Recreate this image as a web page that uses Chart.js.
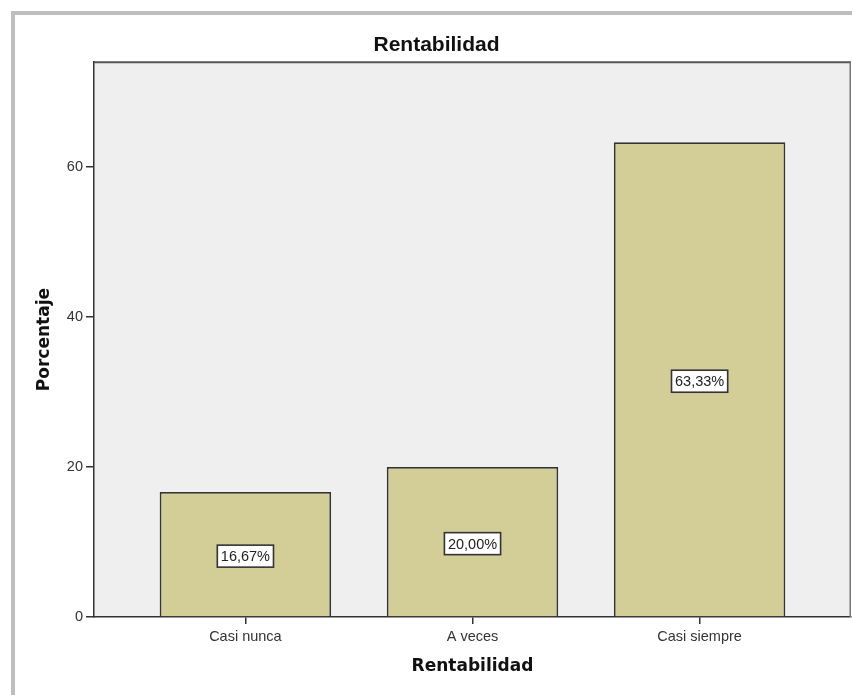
<!DOCTYPE html>
<html>
<head>
<meta charset="utf-8">
<script src="https://cdn.jsdelivr.net/npm/chart.js@4.4.1/dist/chart.umd.min.js"></script>
<style>
  html, body { margin: 0; padding: 0; background: #ffffff; }
  #wrap { position: relative; width: 852px; height: 695px; overflow: hidden; }
  #frame { position: absolute; left: 11px; top: 11px; right: -5px; bottom: -5px;
           border-top: 4px solid #bebebe; border-left: 4px solid #bebebe; }
  #c { position: absolute; left: 0; top: 0; }
</style>
</head>
<body>
<div id="wrap">
  <div id="frame"></div>
  <canvas id="c" width="852" height="695"></canvas>
</div>
<script>
// Response categories and their percentages
const categories = ['Casi nunca', 'A veces', 'Casi siempre'];
const percentages = [16.67, 20.00, 63.33];
const yTickValues = [0, 20, 40, 60];
const yMax = 74;

const textFont = "'Liberation Sans', Arial, sans-serif";
const axisTitleFont = "'DejaVu Sans', Verdana, sans-serif";

function pctLabel(v) {
  return v.toFixed(2).replace('.', ',') + '%';
}

// Grey plot background and the dark frame around the plotting area
const plotFrame = {
  id: 'plotFrame',
  beforeDraw(chart) {
    const { ctx, chartArea: a } = chart;
    ctx.save();
    ctx.fillStyle = '#efefef';
    ctx.fillRect(a.left, a.top, a.right - a.left, a.bottom - a.top);
    ctx.restore();
  },
  afterDraw(chart) {
    const { ctx, chartArea: a } = chart;
    ctx.save();
    ctx.strokeStyle = '#555555';
    ctx.lineWidth = 2;
    ctx.beginPath();
    ctx.moveTo(a.left, a.top);
    ctx.lineTo(a.right, a.top);
    ctx.stroke();
    ctx.strokeStyle = '#777777';
    ctx.lineWidth = 1.5;
    ctx.beginPath();
    ctx.moveTo(a.right - 0.75, a.top);
    ctx.lineTo(a.right - 0.75, a.bottom);
    ctx.stroke();
    ctx.restore();
  }
};

// Boxed percentage label in the middle of every bar
const barLabels = {
  id: 'barLabels',
  afterDatasetsDraw(chart) {
    const { ctx } = chart;
    const meta = chart.getDatasetMeta(0);
    ctx.save();
    ctx.font = '14.5px ' + textFont;
    ctx.textAlign = 'center';
    ctx.textBaseline = 'middle';
    meta.data.forEach((bar, i) => {
      const text = pctLabel(percentages[i]);
      const cx = bar.x;
      const cy = (bar.y + bar.base) / 2 + 2;
      const w = ctx.measureText(text).width + 7;
      const h = 22;
      ctx.fillStyle = '#ffffff';
      ctx.fillRect(cx - w / 2, cy - h / 2, w, h);
      ctx.strokeStyle = '#333333';
      ctx.lineWidth = 1.6;
      ctx.strokeRect(cx - w / 2, cy - h / 2, w, h);
      ctx.fillStyle = '#222222';
      ctx.fillText(text, cx, cy + 1);
    });
    ctx.restore();
  }
};

new Chart(document.getElementById('c'), {
  type: 'bar',
  data: {
    datasets: [{
      label: 'Rentabilidad',
      data: categories.map((c, i) => ({ x: i, y: percentages[i] })),
      backgroundColor: '#d3ce97',
      borderColor: '#333333',
      borderWidth: 1.8,
      borderSkipped: 'start',
      categoryPercentage: 1.0,
      barPercentage: 0.755
    }]
  },
  options: {
    responsive: false,
    animation: false,
    devicePixelRatio: 1,
    layout: { padding: { left: 22, right: 1, top: 0, bottom: 0 } },
    plugins: {
      legend: { display: false },
      tooltip: { enabled: false },
      title: {
        display: true,
        text: 'Rentabilidad',
        color: '#111111',
        font: { family: textFont, size: 21, weight: 'bold' },
        padding: { top: 33, bottom: 4 }
      }
    },
    scales: {
      x: {
        type: 'linear',
        offset: false,
        min: -2 / 3,
        max: categories.length - 1 + 2 / 3,
        afterBuildTicks(scale) {
          scale.ticks = categories.map((c, i) => ({ value: i }));
        },
        afterFit(scale) { scale.height = 78; },
        grid: {
          offset: false,
          drawOnChartArea: false,
          drawTicks: true,
          tickLength: 7,
          color: '#333333',
          lineWidth: 1.5
        },
        border: { display: true, color: '#333333', width: 1.5 },
        ticks: {
          padding: 4,
          color: '#333333',
          font: { family: textFont, size: 14.5 },
          maxRotation: 0,
          callback: (v) => categories[v] ?? ''
        },
        title: {
          display: true,
          text: 'Rentabilidad',
          color: '#111111',
          font: { family: axisTitleFont, size: 17, weight: 'bold' },
          padding: { top: 0, bottom: 18 }
        }
      },
      y: {
        min: 0,
        max: yMax,
        afterBuildTicks(scale) {
          scale.ticks = yTickValues.map(v => ({ value: v }));
        },
        afterFit(scale) { scale.width = 72; },
        grid: {
          drawOnChartArea: false,
          drawTicks: true,
          tickLength: 8,
          color: '#333333',
          lineWidth: 1.5
        },
        border: { display: true, color: '#333333', width: 1.5 },
        ticks: {
          padding: 3,
          color: '#333333',
          font: { family: textFont, size: 14.5 }
        },
        title: {
          display: true,
          text: 'Porcentaje',
          color: '#111111',
          font: { family: axisTitleFont, size: 17, weight: 'bold' },
          padding: { top: 12, bottom: 0 }
        }
      }
    }
  },
  plugins: [plotFrame, barLabels]
});
</script>
</body>
</html>
